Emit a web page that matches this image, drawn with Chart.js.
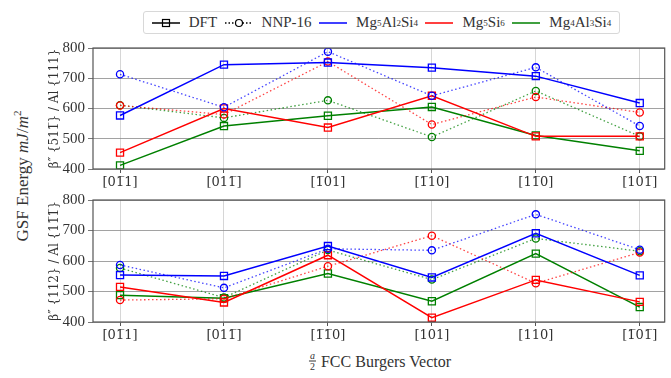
<!DOCTYPE html>
<html>
<head>
<meta charset="utf-8">
<script src="https://cdn.jsdelivr.net/npm/chart.js@4.4.0/dist/chart.umd.min.js"></script>
<style>
  body { margin: 0; width: 671px; height: 378px; background: #fff; position: relative; overflow: hidden;
         font-family: "Liberation Serif", "DejaVu Serif", serif; color: #333; }
  canvas { position: absolute; left: 0; }
  #c1 { top: 36px; }
  #c2 { top: 188px; }
  #legend { position: absolute; left: 143px; top: 11px; width: 477px; height: 23px; box-sizing: border-box;
            border: 1px solid #d8d8d8; border-radius: 3px; display: flex; align-items: center;
            justify-content: space-around; font-size: 15px; padding: 0 4px; }
  #legend span.item { display: flex; align-items: center; white-space: nowrap; }
  #legend svg { margin-right: 9px; }
  sub { font-size: 9px; vertical-align: -3px; line-height: 0; }
  #ylab { position: absolute; left: 22px; top: 176px; transform: translate(-50%, -50%) rotate(-90deg);
          font-size: 17px; white-space: nowrap; }
  #xlab { position: absolute; left: 380px; top: 361px; transform: translate(-50%, -50%);
          font-size: 16px; white-space: nowrap; display: flex; align-items: center; }
  .frac { display: inline-flex; flex-direction: column; align-items: center; font-size: 10px; line-height: 10px;
          margin-right: 5px; font-style: italic; }
  .frac b { font-weight: normal; border-top: 0.8px solid #333; padding: 0 1px; font-style: normal; }
</style>
</head>
<body>
<div id="legend">
  <span class="item"><svg width="28" height="10"><line x1="0" y1="5" x2="28" y2="5" stroke="#000" stroke-width="1.5"/><rect x="10.5" y="1.5" width="7" height="7" fill="none" stroke="#000" stroke-width="1.2"/></svg>DFT</span>
  <span class="item"><svg width="28" height="10"><line x1="0" y1="5" x2="28" y2="5" stroke="#000" stroke-width="1.3" stroke-dasharray="1.5,2"/><circle cx="14" cy="5" r="3.5" fill="#fff" stroke="#000" stroke-width="1.2"/></svg>NNP-16</span>
  <span class="item"><svg width="28" height="10"><line x1="0" y1="5" x2="28" y2="5" stroke="#0000ff" stroke-width="1.5"/></svg>Mg<sub>5</sub>Al<sub>2</sub>Si<sub>4</sub></span>
  <span class="item"><svg width="28" height="10"><line x1="0" y1="5" x2="28" y2="5" stroke="#ff0000" stroke-width="1.5"/></svg>Mg<sub>5</sub>Si<sub>6</sub></span>
  <span class="item"><svg width="28" height="10"><line x1="0" y1="5" x2="28" y2="5" stroke="#008000" stroke-width="1.5"/></svg>Mg<sub>4</sub>Al<sub>3</sub>Si<sub>4</sub></span>
</div>
<div id="ylab">GSF Energy <i>mJ</i>/<i>m</i><sup style="font-size:11px">2</sup></div>
<canvas id="c1" width="671" height="160"></canvas>
<canvas id="c2" width="671" height="160"></canvas>
<div id="xlab"><span class="frac"><span>a</span><b>2</b></span>FCC Burgers Vector</div>

<script>
  "use strict";

  // Burgers vectors (tick labels), bar = combining overline
  const labelsTop = ['[01\u03051]', '[011\u0305]', '[1\u030501]', '[1\u030510]', '[11\u03050]', '[101\u0305]'];
  const labelsBot = ['[01\u03051]', '[011\u0305]', '[1\u03051\u03050]', '[101]', '[110]', '[1\u030501\u0305]'];
  const yTicks = [400, 500, 600, 700, 800];

  // panel titles
  const titleTop = 'β\u2033 {511\u0305} / Al {111}';
  const titleBot = 'β\u2033 {112} / Al {11\u03051\u0305}';

  // GSF energies, top panel (mJ/m^2)
  const dftMg5Al2Si4Top = [577, 745, 752, 735, 707, 618];
  const nnpMg5Al2Si4Top = [713, 604, 788, 642, 736, 542];
  const dftMg5Si6Top    = [454, 600, 537, 642, 508, 508];
  const nnpMg5Si6Top    = [610, 580, 755, 547, 638, 587];
  const dftMg4Al3Si4Top = [412, 542, 576, 605, 511, 460];
  const nnpMg4Al3Si4Top = [611, 569, 627, 506, 658, 508];

  // GSF energies, bottom panel (mJ/m^2)
  const dftMg5Al2Si4Bot = [554, 551, 649, 546, 691, 553];
  const nnpMg5Al2Si4Bot = [587, 512, 640, 635, 753, 637];
  const dftMg5Si6Bot    = [515, 464, 619, 414, 538, 466];
  const nnpMg5Si6Bot    = [472, 476, 583, 683, 527, 628];
  const dftMg4Al3Si4Bot = [488, 478, 559, 468, 624, 449];
  const nnpMg4Al3Si4Bot = [577, 480, 636, 539, 674, 632];

  const BLUE = '#0000ff', RED = '#ff0000', GREEN = '#008000';
  const SERIF = '"Liberation Serif", "DejaVu Serif", serif';
  const MARKS = '"DejaVu Serif", serif';   // has proper anchors for the bars

  function toXY(vals) {
    return vals.map(function (v, i) { return { x: i, y: v }; });
  }

  function dft(vals, color) {
    return {
      data: toXY(vals), borderColor: color, borderWidth: 1.5,
      pointStyle: 'rect', pointRadius: 5, pointBorderWidth: 1.3,
      pointBorderColor: color, pointBackgroundColor: 'rgba(0,0,0,0)', tension: 0
    };
  }

  function nnp(vals, color) {
    return {
      data: toXY(vals), borderColor: color + 'bb', borderWidth: 1.3, borderDash: [1.5, 2.5],
      pointStyle: 'circle', pointRadius: 3.6, pointBorderWidth: 1.3,
      pointBorderColor: color, pointBackgroundColor: 'rgba(0,0,0,0)', tension: 0
    };
  }

  // box round the plot area
  const frame = {
    id: 'frame',
    afterDatasetsDraw: function (chart) {
      const a = chart.chartArea, ctx = chart.ctx;
      ctx.save();
      ctx.strokeStyle = '#555';
      ctx.lineWidth = 1.2;
      ctx.strokeRect(a.left, a.top, a.right - a.left, a.bottom - a.top);
      ctx.restore();
    }
  };

  function panel(id, labels, title, sets, xHeight) {
    return new Chart(document.getElementById(id), {
      type: 'line',
      data: { datasets: sets },
      plugins: [frame],
      options: {
        responsive: false,
        animation: false,
        layout: { padding: { top: 6, right: 4, left: 0, bottom: 0 } },
        plugins: { legend: { display: false }, tooltip: { enabled: false } },
        scales: {
          x: {
            type: 'linear', min: -0.26, max: 5.24,
            afterBuildTicks: function (s) { s.ticks = labels.map(function (l, i) { return { value: i }; }); },
            afterFit: function (s) { s.height = xHeight; },
            ticks: {
              callback: function (v) { return labels[v]; },
              color: '#333', padding: 2, maxRotation: 0, autoSkip: false,
              font: { family: MARKS, size: 13 }
            },
            grid: { color: '#d6d6d6', lineWidth: 1, tickLength: 4, tickColor: '#555' },
            border: { display: false }
          },
          y: {
            min: 400, max: 800,
            afterBuildTicks: function (s) { s.ticks = yTicks.map(function (v) { return { value: v }; }); },
            afterFit: function (s) { s.width = 93; },
            ticks: {
              color: '#333', padding: 3,
              font: { family: SERIF, size: 15 }
            },
            grid: { color: '#8a8a8a', lineWidth: 0.8, borderDash: [2, 2], tickLength: 5,
                    tickColor: '#555', tickBorderDash: [] },
            border: { display: false },
            title: {
              display: true, text: title, color: '#333', padding: { top: 48, bottom: 0 },
              font: { family: MARKS, size: 12 }
            }
          }
        }
      }
    });
  }

  panel('c1', labelsTop, titleTop, [
    dft(dftMg5Al2Si4Top, BLUE), nnp(nnpMg5Al2Si4Top, BLUE),
    dft(dftMg5Si6Top, RED), nnp(nnpMg5Si6Top, RED),
    dft(dftMg4Al3Si4Top, GREEN), nnp(nnpMg4Al3Si4Top, GREEN)
  ], 27);

  panel('c2', labelsBot, titleBot, [
    dft(dftMg5Al2Si4Bot, BLUE), nnp(nnpMg5Al2Si4Bot, BLUE),
    dft(dftMg5Si6Bot, RED), nnp(nnpMg5Si6Bot, RED),
    dft(dftMg4Al3Si4Bot, GREEN), nnp(nnpMg4Al3Si4Bot, GREEN)
  ], 26);
</script>
</body>
</html>
